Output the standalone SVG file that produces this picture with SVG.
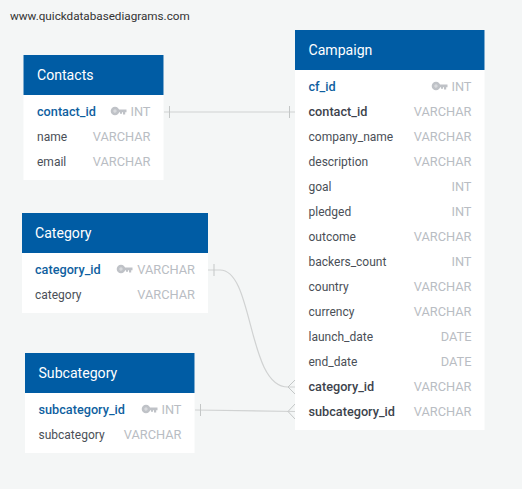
<svg xmlns="http://www.w3.org/2000/svg" width="522" height="489" viewBox="0 0 522 489">
<style>
text{font-family:Roboto,"Liberation Sans",sans-serif;font-size:12px;fill:#4a4f57}
.bg{fill:#f4f6f6}
.body{fill:#fff}
.head{fill:#005ca4}
.title{font-size:14.100px;fill:#fff}
.pk{font-size:12.700px;font-weight:500;fill:#0f5f9f}
.fk{font-size:12.700px;font-weight:500;fill:#3d434c}
.ty{font-size:12.800px;fill:#b9bdc3;text-anchor:end}
.wm{font-size:11.700px;fill:#333}
.c{fill:none;stroke:#d0d2d2;stroke-width:1.2}
.t{fill:none;stroke:#c4c7c7;stroke-width:1}
</style>
<defs>
<g id="key"><circle cx="4" cy="4" r="3" fill="#d8dadd" stroke="#bfc2c7" stroke-width="2.600"/><path d="M7 2.500H15.500V5.200H14.200V7.500H12V5.200H11V6.800H9V5.200H7Z" fill="#bfc2c7"/></g>
</defs>
<rect class="bg" width="522" height="489"/>
<text class="wm" x="10" y="20">www.quickdatabasediagrams.com</text>
<g id="connectors">
<path class="c" d="M164 112H295"/>
<path class="t" d="M169.500 106V118M289.500 106V118"/>
<path class="c" d="M208 270H220C254 270 247 387 288 387H295"/>
<path class="t" d="M214 264V276M295 380L288 387L295 394"/>
<path class="c" d="M195 410L295 411.500"/>
<path class="t" d="M200.500 404V416M295 404L288 411.500L295 419"/>
</g>
<g id="contacts">
<rect class="body" x="23.500" y="55" width="140" height="125"/>
<rect class="head" x="23.500" y="55" width="140" height="40"/>
<text class="title" x="37" y="80">Contacts</text>
<text class="pk" x="37" y="116">contact_id</text><use href="#key" x="111" y="107"/><text class="ty" x="150.500" y="116">INT</text>
<text x="37" y="141">name</text><text class="ty" x="150.500" y="141">VARCHAR</text>
<text x="37" y="166">email</text><text class="ty" x="150.500" y="166">VARCHAR</text>
</g>
<g id="category">
<rect class="body" x="22" y="213" width="186" height="100"/>
<rect class="head" x="22" y="213" width="186" height="40"/>
<text class="title" x="35" y="238">Category</text>
<text class="pk" x="35" y="274">category_id</text><use href="#key" x="117" y="265"/><text class="ty" x="195" y="274">VARCHAR</text>
<text x="35" y="299">category</text><text class="ty" x="195" y="299">VARCHAR</text>
</g>
<g id="subcategory">
<rect class="body" x="25" y="353" width="169.500" height="100"/>
<rect class="head" x="25" y="353" width="169.500" height="40"/>
<text class="title" x="38.500" y="378">Subcategory</text>
<text class="pk" x="38.500" y="414">subcategory_id</text><use href="#key" x="142" y="405"/><text class="ty" x="181.500" y="414">INT</text>
<text x="38.500" y="439">subcategory</text><text class="ty" x="181.500" y="439">VARCHAR</text>
</g>
<g id="campaign">
<rect class="body" x="295" y="30" width="189.500" height="400"/>
<rect class="head" x="295" y="30" width="189.500" height="40"/>
<text class="title" x="308.500" y="55">Campaign</text>
<text class="pk" x="308.500" y="91">cf_id</text><use href="#key" x="432" y="82"/><text class="ty" x="471.500" y="91">INT</text>
<text class="fk" x="308.500" y="116">contact_id</text><text class="ty" x="471.500" y="116">VARCHAR</text>
<text x="308.500" y="141">company_name</text><text class="ty" x="471.500" y="141">VARCHAR</text>
<text x="308.500" y="166">description</text><text class="ty" x="471.500" y="166">VARCHAR</text>
<text x="308.500" y="191">goal</text><text class="ty" x="471.500" y="191">INT</text>
<text x="308.500" y="216">pledged</text><text class="ty" x="471.500" y="216">INT</text>
<text x="308.500" y="241">outcome</text><text class="ty" x="471.500" y="241">VARCHAR</text>
<text x="308.500" y="266">backers_count</text><text class="ty" x="471.500" y="266">INT</text>
<text x="308.500" y="291">country</text><text class="ty" x="471.500" y="291">VARCHAR</text>
<text x="308.500" y="316">currency</text><text class="ty" x="471.500" y="316">VARCHAR</text>
<text x="308.500" y="341">launch_date</text><text class="ty" x="471.500" y="341">DATE</text>
<text x="308.500" y="366">end_date</text><text class="ty" x="471.500" y="366">DATE</text>
<text class="fk" x="308.500" y="391">category_id</text><text class="ty" x="471.500" y="391">VARCHAR</text>
<text class="fk" x="308.500" y="416">subcategory_id</text><text class="ty" x="471.500" y="416">VARCHAR</text>
</g>
</svg>
